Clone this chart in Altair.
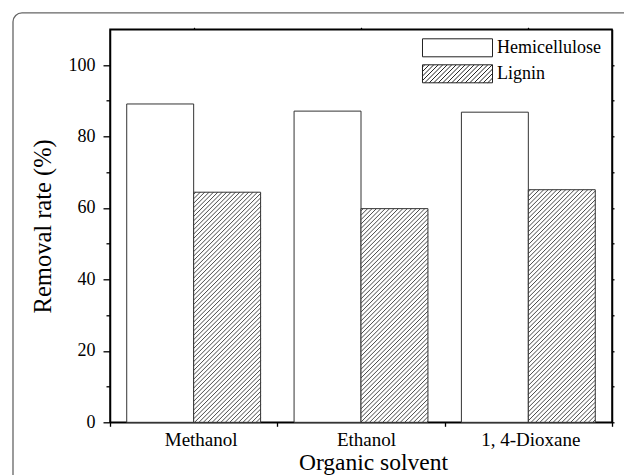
import altair as alt
import pandas as pd
import numpy as np

# ---- data ----
solvents = ["Methanol", "Ethanol", "1, 4-Dioxane"]
hemicellulose = [89.1, 87.1, 86.8]
lignin = [64.4, 59.8, 65.1]
series = ["Hemicellulose", "Lignin"]
y_major = [0, 20, 40, 60, 80, 100]

# ---- layout ----
W, H = 502, 393
YMAX = 110
BAR = 0.4
GAP = 0.1
FONT = "Liberation Serif"

rows = []
for i, s in enumerate(solvents):
    for j, (name, vals) in enumerate(zip(series, [hemicellulose, lignin])):
        x0 = i + GAP + BAR * j
        rows.append(dict(solvent=s, series=name, value=vals[i], x0=x0, x1=x0 + BAR, xm=x0 + BAR / 2))
bars = pd.DataFrame(rows)

# hatch lines for the lignin bars, derived from the bar values
sx = W / len(solvents)
sy = H / YMAX
step = 4.4
hatch = []
for r in bars[bars.series == "Lignin"].itertuples():
    wpx = (r.x1 - r.x0) * sx
    hpx = r.value * sy
    for u in np.arange(-hpx + step / 2, wpx, step):
        xa = max(0.0, u)
        xb = min(wpx, u + hpx)
        if xb - xa < 0.3:
            continue
        hatch.append(dict(x=r.x0 + xa / sx, y=(xa - u) / sy, x2=r.x0 + xb / sx, y2=(xb - u) / sy))
hatch = pd.DataFrame(hatch)

# legend symbol paths (unit = 9 px with symbol size 324)
hx, hy = 35 / 9, 1.0
rect_path = f"M{-hx:.3f},{-hy:.3f}H{hx:.3f}V{hy:.3f}H{-hx:.3f}Z"
segs = []
for u in np.arange(-hx - hy + 0.25, hx + hy, 0.5):
    xa = max(-hx, u - hy)
    xb = min(hx, u + hy)
    if xb - xa < 0.05:
        continue
    segs.append(f"M{xa:.3f},{-(xa - u):.3f}L{xb:.3f},{-(xb - u):.3f}")
hatch_path = rect_path + "".join(segs)

label_expr = " : ".join(
    [f"datum.value == {i + 0.5} ? '{s}'" for i, s in enumerate(solvents)]
) + " : ''"

xscale = alt.Scale(domain=[0, len(solvents)], nice=False, zero=False)
yscale = alt.Scale(domain=[0, YMAX], nice=False)

x_bottom = alt.Axis(
    orient="bottom",
    values=[0, 0.5, 1, 1.5, 2, 2.5, 3], labelExpr=label_expr, title="Organic solvent",
    tickOpacity={"expr": "datum.value % 1 == 0 ? 1 : 0"}, tickSize=4, labelPadding=4,
    labelOffset={"expr": "datum.value == 0.5 ? 7 : datum.value == 1.5 ? 5 : 2"},
    labelFontSize=19, titleFontSize=23.5, titlePadding=1, titleX=263,
    grid=False, labelFlush=False,
)
y_left = alt.Axis(
    orient="left",
    values=list(range(0, 101, 10)), title="Removal rate (%)",
    labelExpr="datum.value % 20 == 0 ? datum.label : ''",
    tickSize={"expr": "datum.value % 20 == 0 ? 7 : 4"}, labelPadding=8,
    labelFontSize=18, titleFontSize=24.5, titlePadding=13, grid=False,
)
x_top = alt.Axis(orient="top", values=[0.5, 1.5, 2.5], labels=False,
                 tickSize=2, title=None, grid=False)
y_right = alt.Axis(orient="right", values=list(range(0, 101, 10)),
                   labels=False, tickSize=2, title=None, grid=False)

bar_layer = alt.Chart(bars).mark_rect(fill="white", stroke="#333", strokeWidth=1).encode(
    x=alt.X("x0:Q", scale=xscale, axis=x_bottom),
    x2="x1:Q",
    y=alt.Y("value:Q", scale=yscale, axis=y_left),
    y2=alt.datum(0),
)

hatch_layer = alt.Chart(hatch).mark_rule(color="#333", strokeWidth=0.9).encode(
    x=alt.X("x:Q", scale=xscale, axis=x_top),
    x2="x2:Q",
    y=alt.Y("y:Q", scale=yscale, axis=y_right),
    y2="y2:Q",
)

legend_layer = alt.Chart(bars).mark_point(opacity=0, size=324, filled=False, color="#222").encode(
    x=alt.X("xm:Q", scale=xscale, axis=None),
    y=alt.Y("value:Q", scale=yscale, axis=None),
    shape=alt.Shape(
        "series:N",
        scale=alt.Scale(domain=series, range=[rect_path, hatch_path]),
        legend=alt.Legend(
            title=None, orient="none", legendX=312, legendY=9, symbolSize=324,
            symbolFillColor="white", symbolStrokeColor="#222", symbolStrokeWidth=1,
            symbolOpacity=1, symbolOffset=26, labelOffset=30, rowPadding=3,
            labelFont=FONT, labelFontSize=18, labelColor="black",
        ),
    ),
)

frame = alt.Chart(alt.Data(values=[{}])).mark_rect(
    fill="transparent", stroke="#666", strokeWidth=1.3, cornerRadius=9
).encode(
    x=alt.value(-97), x2=alt.value(540), y=alt.value(-16.5), y2=alt.value(480)
)

chart = (
    alt.layer(bar_layer, hatch_layer, legend_layer, frame)
    .resolve_scale(x="shared", y="shared")
    .resolve_axis(x="independent", y="independent")
    .properties(
        width=W, height=H,
        autosize=alt.AutoSizeParams(type="none"),
        padding={"left": 110, "top": 29.3, "right": 12, "bottom": 52.7},
        background="white",
    )
    .configure_view(stroke="black", strokeWidth=1.5)
    .configure_axis(
        labelFont=FONT, titleFont=FONT, labelColor="black", titleColor="black",
        domainColor="black", tickColor="black", domainWidth=1.5, tickWidth=1.3,
        titleFontWeight="normal",
    )
)

chart.save("out.html", embed_options={"renderer": "svg", "actions": False})
